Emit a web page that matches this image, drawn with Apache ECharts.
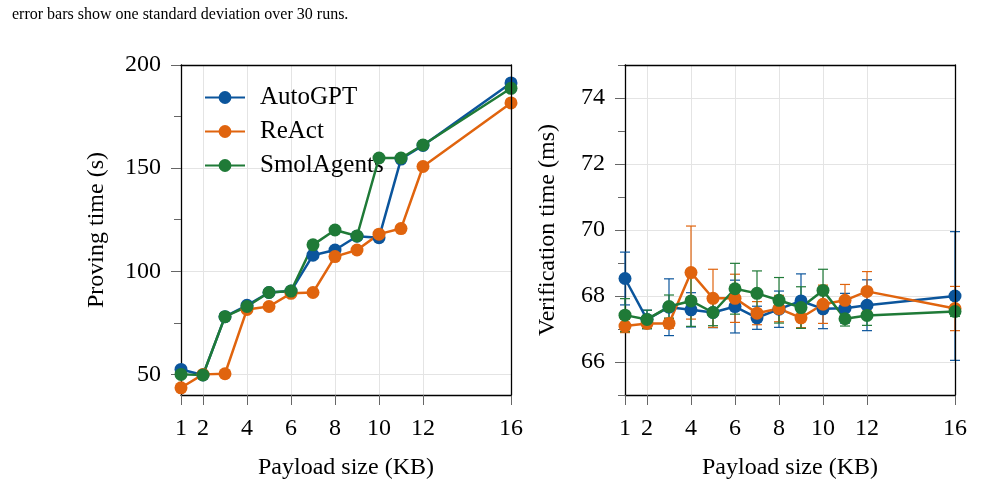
<!DOCTYPE html>
<html>
<head>
<meta charset="utf-8">
<style>
html, body { margin: 0; padding: 0; background: #fff; }
#chart { width: 1008px; height: 487px; }
</style>
<script src="https://cdn.jsdelivr.net/npm/echarts@6/dist/echarts.min.js"></script>
</head>
<body>
<div id="chart"></div>
<script>
// payload sizes (KB) and axis ticks
const payload = [1, 2, 3, 4, 5, 6, 7, 8, 9, 10, 11, 12, 16]
const xTicks = [1, 2, 4, 6, 8, 10, 12, 16]
const provingTicks = [50, 100, 150, 200]
const provingMinor = [75, 125, 175]
const verifyTicks = [66, 68, 70, 72, 74]
const verifyMinor = [65, 67, 69, 71, 73, 75]

// proving time (s)
const provingAutoGPT = [52.4, 49.7, 78, 83.5, 89.7, 90.4, 107.8, 110.3, 117, 116.3, 154.4, 161, 191.3]
const provingReAct = [43.5, 50, 50.3, 81.5, 82.9, 89.3, 89.7, 107.1, 110.3, 118, 120.7, 150.8, 181.6]
const provingSmol = [50, 49.7, 78, 82.9, 89.7, 90.4, 112.8, 120, 117.1, 154.9, 154.9, 161.2, 188.7]

// verification time (ms), mean and std
const verifyAutoGPT = [68.53, 67.29, 67.66, 67.58, 67.5, 67.68, 67.34, 67.6, 67.85, 67.61, 67.63, 67.72, 68.0]
const verifyAutoGPTStd = [0.8, 0.28, 0.86, 0.52, 0.46, 0.8, 0.35, 0.55, 0.82, 0.6, 0.45, 0.77, 1.95]
const verifyReAct = [67.09, 67.17, 67.17, 68.71, 67.93, 67.93, 67.48, 67.62, 67.34, 67.75, 67.87, 68.14, 67.62]
const verifyReActStd = [0.2, 0.15, 0.15, 1.41, 0.88, 0.73, 0.35, 0.4, 0.3, 0.58, 0.48, 0.6, 0.67]
const verifySmol = [67.42, 67.29, 67.68, 67.85, 67.5, 68.22, 68.08, 67.87, 67.65, 68.17, 67.31, 67.41, 67.53]
const verifySmolStd = [0.5, 0.28, 0.35, 0.77, 0.4, 0.77, 0.68, 0.69, 0.63, 0.64, 0.22, 0.3, 0.15]

const names = ['AutoGPT', 'ReAct', 'SmolAgents']
const colors = ['#0b559c', '#e0640e', '#1f7a37']
const font = 'Liberation Serif'

const pairs = ys => payload.map((x, i) => [x, ys[i]])
const triples = (ys, sd) => payload.map((x, i) => [x, ys[i], sd[i]])

function lineSeries(name, color, data, idx) {
    return {
        name: name,
        type: 'line',
        xAxisIndex: idx * 2,
        yAxisIndex: idx * 3,
        data: data,
        symbol: 'circle',
        symbolSize: 13,
        z: 3,
        lineStyle: { width: 2.5, color: color },
        itemStyle: { color: color }
    }
}

function errorSeries(name, color, data) {
    return {
        name: name,
        type: 'custom',
        xAxisIndex: 2,
        yAxisIndex: 3,
        z: 2,
        encode: { x: 0, y: 1 },
        data: data,
        renderItem(params, api) {
            const x = api.value(0), m = api.value(1), s = api.value(2)
            const hi = api.coord([x, m + s])
            const lo = api.coord([x, m - s])
            const cap = 5
            const style = { stroke: color, lineWidth: 1.2 }
            return {
                type: 'group',
                children: [
                    { type: 'line', shape: { x1: hi[0], y1: hi[1], x2: lo[0], y2: lo[1] }, style: style },
                    { type: 'line', shape: { x1: hi[0] - cap, y1: hi[1], x2: hi[0] + cap, y2: hi[1] }, style: style },
                    { type: 'line', shape: { x1: lo[0] - cap, y1: lo[1], x2: lo[0] + cap, y2: lo[1] }, style: style }
                ]
            }
        }
    }
}

const tickStyle = { color: '#666', width: 1 }
const gridLine = { show: true, lineStyle: { color: '#e4e4e4', width: 1 } }
const frameLine = { show: true, lineStyle: { color: '#000', width: 1.3 } }

// bottom axis plus a bare top axis that closes the frame
function xAxes(gridIndex) {
    return [{
        type: 'value',
        gridIndex: gridIndex,
        position: 'bottom',
        min: 1,
        max: 16,
        name: 'Payload size (KB)',
        nameLocation: 'middle',
        nameGap: 61,
        nameTextStyle: { fontFamily: font, fontSize: 24, color: '#000' },
        axisLine: frameLine,
        axisTick: { show: true, inside: false, length: 10, lineStyle: tickStyle, customValues: xTicks },
        axisLabel: { margin: 22, fontFamily: font, fontSize: 24, color: '#000', customValues: xTicks },
        splitLine: gridLine
    }, {
        type: 'value',
        gridIndex: gridIndex,
        position: 'top',
        min: 1,
        max: 16,
        axisLine: frameLine,
        axisTick: { show: false },
        axisLabel: { show: false },
        splitLine: { show: false },
        z: 5
    }]
}

function yAxes(gridIndex, min, max, ticks, minor, title, gap) {
    return [{
        type: 'value',
        gridIndex: gridIndex,
        position: 'left',
        min: min,
        max: max,
        name: title,
        nameLocation: 'middle',
        nameGap: gap,
        nameTextStyle: { fontFamily: font, fontSize: 24, color: '#000' },
        axisLine: frameLine,
        axisTick: { show: true, length: 10, lineStyle: tickStyle, customValues: ticks },
        axisLabel: { margin: 20, fontFamily: font, fontSize: 24, color: '#000', customValues: ticks },
        splitLine: gridLine
    }, {
        type: 'value',
        gridIndex: gridIndex,
        position: 'left',
        min: min,
        max: max,
        axisLine: { show: false },
        axisTick: { show: true, length: 7, lineStyle: tickStyle, customValues: minor },
        axisLabel: { show: false },
        splitLine: { show: false }
    }, {
        type: 'value',
        gridIndex: gridIndex,
        position: 'right',
        min: min,
        max: max,
        axisLine: frameLine,
        axisTick: { show: false },
        axisLabel: { show: false },
        splitLine: { show: false },
        z: 5
    }]
}

const chart = echarts.init(document.getElementById('chart'))
chart.setOption({
    animation: false,
    backgroundColor: '#fff',
    title: {
        text: 'error bars show one standard deviation over 30 runs.',
        left: 7,
        top: 2,
        textStyle: { fontFamily: font, fontSize: 16, fontWeight: 'normal', color: '#000' }
    },
    legend: {
        data: names,
        orient: 'vertical',
        left: 199,
        top: 80,
        z: 1,
        itemWidth: 40,
        itemHeight: 16,
        itemGap: 9,
        textStyle: { fontFamily: font, fontSize: 25, color: '#000', padding: [0, 0, 0, 10] }
    },
    grid: [
        { left: 181, right: 497, top: 65, bottom: 92 },
        { left: 625, right: 53, top: 65, bottom: 92 }
    ],
    xAxis: [...xAxes(0), ...xAxes(1)],
    yAxis: [
        ...yAxes(0, 40, 200, provingTicks, provingMinor, 'Proving time (s)', 72),
        ...yAxes(1, 65, 75, verifyTicks, verifyMinor, 'Verification time (ms)', 65)
    ],
    series: [
        lineSeries(names[0], colors[0], pairs(provingAutoGPT), 0),
        lineSeries(names[1], colors[1], pairs(provingReAct), 0),
        lineSeries(names[2], colors[2], pairs(provingSmol), 0),
        errorSeries(names[0], colors[0], triples(verifyAutoGPT, verifyAutoGPTStd)),
        lineSeries(names[0], colors[0], pairs(verifyAutoGPT), 1),
        errorSeries(names[1], colors[1], triples(verifyReAct, verifyReActStd)),
        lineSeries(names[1], colors[1], pairs(verifyReAct), 1),
        errorSeries(names[2], colors[2], triples(verifySmol, verifySmolStd)),
        lineSeries(names[2], colors[2], pairs(verifySmol), 1)
    ]
})
</script>
</body>
</html>
